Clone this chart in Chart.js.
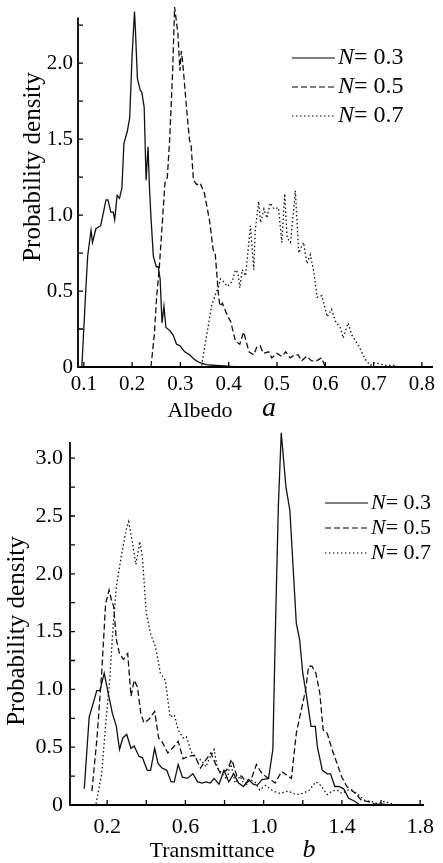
<!DOCTYPE html>
<html>
<head>
<meta charset="utf-8">
<script src="https://cdn.jsdelivr.net/npm/chart.js@4.4.1/dist/chart.umd.min.js"></script>
<style>
  html, body { margin: 0; padding: 0; background: #fff; }
  #wrap { position: relative; width: 443px; height: 863px; }
  canvas { position: absolute; left: 0; }
</style>
</head>
<body>
<div id="wrap">
  <canvas id="albedoChart" width="443" height="420" style="top:0"></canvas>
  <canvas id="transChart" width="443" height="443" style="top:420px"></canvas>
</div>
<script>
// series names (cloud fraction N)
const seriesN = ['0.3', '0.5', '0.7'];

// panel a: albedo
const albedoX03 = [0.096, 0.104, 0.108, 0.115, 0.118, 0.125, 0.135, 0.146, 0.150, 0.156, 0.161, 0.164, 0.169, 0.174, 0.179, 0.183, 0.190, 0.195, 0.200, 0.205, 0.207, 0.211, 0.217, 0.220, 0.225, 0.229, 0.233, 0.236, 0.239, 0.244, 0.250, 0.254, 0.258, 0.262, 0.266, 0.270, 0.278, 0.285, 0.292, 0.299, 0.309, 0.319, 0.329, 0.339, 0.353, 0.373, 0.400, 0.420];
const albedoY03 = [0, 0.50, 0.73, 0.90, 0.82, 0.91, 0.93, 1.10, 1.10, 1.02, 1.02, 0.97, 1.13, 1.11, 1.18, 1.47, 1.55, 1.64, 2.05, 2.34, 2.21, 1.90, 1.82, 1.81, 1.71, 1.23, 1.45, 1.18, 0.99, 0.73, 0.66, 0.66, 0.58, 0.29, 0.40, 0.26, 0.24, 0.21, 0.15, 0.14, 0.10, 0.08, 0.05, 0.03, 0.015, 0.01, 0.005, 0];
const albedoX05 = [0.239, 0.246, 0.251, 0.256, 0.263, 0.268, 0.273, 0.278, 0.284, 0.288, 0.295, 0.299, 0.302, 0.305, 0.312, 0.319, 0.322, 0.327, 0.334, 0.341, 0.350, 0.360, 0.368, 0.372, 0.379, 0.382, 0.387, 0.397, 0.404, 0.414, 0.423, 0.431, 0.442, 0.452, 0.458, 0.465, 0.472, 0.483, 0.489, 0.500, 0.510, 0.518, 0.527, 0.537, 0.544, 0.551, 0.561, 0.572, 0.582, 0.592, 0.599, 0.610];
const albedoY05 = [0, 0.21, 0.47, 0.64, 0.97, 1.21, 1.25, 1.51, 1.95, 2.37, 2.19, 1.95, 2.08, 2.00, 1.73, 1.49, 1.47, 1.23, 1.20, 1.21, 1.14, 0.97, 0.77, 0.75, 0.47, 0.40, 0.42, 0.34, 0.30, 0.17, 0.15, 0.23, 0.10, 0.08, 0.13, 0.14, 0.09, 0.10, 0.06, 0.09, 0.07, 0.10, 0.06, 0.08, 0.08, 0.04, 0.07, 0.04, 0.04, 0.06, 0.01, 0];
const albedoX07 = [0.344, 0.355, 0.365, 0.373, 0.379, 0.383, 0.390, 0.397, 0.407, 0.414, 0.419, 0.423, 0.428, 0.435, 0.445, 0.452, 0.455, 0.462, 0.466, 0.473, 0.479, 0.486, 0.494, 0.503, 0.510, 0.516, 0.521, 0.528, 0.538, 0.545, 0.555, 0.562, 0.569, 0.576, 0.583, 0.593, 0.604, 0.613, 0.621, 0.631, 0.637, 0.647, 0.655, 0.669, 0.683, 0.693, 0.703, 0.724, 0.745];
const albedoY07 = [0.01, 0.22, 0.41, 0.48, 0.53, 0.58, 0.56, 0.53, 0.56, 0.64, 0.62, 0.52, 0.64, 0.60, 0.93, 0.64, 0.90, 1.09, 0.95, 1.04, 0.98, 1.08, 1.04, 1.05, 0.82, 1.14, 0.85, 0.82, 1.16, 0.75, 0.82, 0.68, 0.74, 0.63, 0.46, 0.47, 0.33, 0.38, 0.30, 0.26, 0.19, 0.29, 0.21, 0.14, 0.05, 0.01, 0.03, 0.01, 0.01];

// panel b: transmittance
const transX03 = [0.083, 0.108, 0.147, 0.163, 0.185, 0.205, 0.227, 0.247, 0.263, 0.280, 0.300, 0.322, 0.338, 0.363, 0.380, 0.405, 0.422, 0.443, 0.460, 0.480, 0.505, 0.527, 0.543, 0.563, 0.585, 0.610, 0.638, 0.663, 0.685, 0.705, 0.727, 0.747, 0.772, 0.797, 0.822, 0.847, 0.872, 0.897, 0.922, 0.947, 0.967, 0.992, 1.025, 1.047, 1.059, 1.075, 1.090, 1.114, 1.134, 1.167, 1.184, 1.200, 1.217, 1.242, 1.264, 1.275, 1.300, 1.325, 1.342, 1.364, 1.384, 1.409, 1.434, 1.467, 1.492];
const transY03 = [0.14, 0.76, 0.99, 0.99, 1.14, 0.97, 0.79, 0.68, 0.48, 0.58, 0.61, 0.49, 0.51, 0.42, 0.41, 0.30, 0.30, 0.49, 0.36, 0.32, 0.30, 0.20, 0.20, 0.35, 0.24, 0.23, 0.27, 0.20, 0.19, 0.20, 0.19, 0.23, 0.18, 0.30, 0.20, 0.27, 0.19, 0.16, 0.22, 0.18, 0.17, 0.22, 0.23, 0.48, 1.43, 2.58, 3.22, 2.75, 2.55, 1.57, 1.43, 1.14, 0.97, 0.68, 0.68, 0.50, 0.30, 0.27, 0.27, 0.16, 0.16, 0.14, 0.06, 0.03, 0];
const transX05 = [0.122, 0.147, 0.172, 0.192, 0.210, 0.222, 0.233, 0.247, 0.263, 0.283, 0.305, 0.322, 0.338, 0.355, 0.372, 0.388, 0.413, 0.443, 0.463, 0.480, 0.510, 0.538, 0.563, 0.588, 0.613, 0.647, 0.677, 0.705, 0.730, 0.755, 0.780, 0.810, 0.838, 0.863, 0.888, 0.913, 0.938, 0.963, 0.992, 1.017, 1.059, 1.092, 1.117, 1.142, 1.167, 1.192, 1.214, 1.230, 1.247, 1.267, 1.287, 1.304, 1.325, 1.350, 1.375, 1.400, 1.425, 1.450, 1.475, 1.500, 1.534, 1.567, 1.617, 1.650];
const transY05 = [0.12, 0.56, 1.14, 1.74, 1.86, 1.77, 1.72, 1.43, 1.31, 1.26, 1.31, 0.94, 1.08, 1.02, 0.79, 0.71, 0.74, 0.81, 0.58, 0.55, 0.45, 0.50, 0.55, 0.40, 0.42, 0.43, 0.32, 0.39, 0.45, 0.35, 0.27, 0.30, 0.39, 0.25, 0.25, 0.19, 0.23, 0.35, 0.27, 0.24, 0.19, 0.29, 0.26, 0.23, 0.62, 0.82, 0.99, 1.20, 1.20, 1.14, 0.97, 0.65, 0.62, 0.48, 0.36, 0.24, 0.16, 0.13, 0.09, 0.04, 0.03, 0.01, 0.005, 0];
const transX07 = [0.143, 0.172, 0.193, 0.213, 0.230, 0.247, 0.272, 0.297, 0.310, 0.327, 0.347, 0.367, 0.380, 0.400, 0.422, 0.447, 0.472, 0.497, 0.522, 0.543, 0.563, 0.588, 0.605, 0.630, 0.655, 0.680, 0.705, 0.722, 0.747, 0.763, 0.788, 0.813, 0.830, 0.855, 0.880, 0.905, 0.930, 0.955, 0.980, 1.009, 1.050, 1.084, 1.125, 1.167, 1.200, 1.234, 1.267, 1.292, 1.325, 1.350, 1.375, 1.400, 1.434, 1.459, 1.484, 1.517, 1.550, 1.584, 1.617, 1.667, 1.700];
const transY07 = [0.01, 0.27, 0.71, 1.08, 1.54, 1.89, 2.15, 2.38, 2.45, 2.29, 2.08, 2.28, 2.15, 1.66, 1.48, 1.37, 1.14, 1.08, 0.76, 0.78, 0.65, 0.58, 0.59, 0.46, 0.40, 0.39, 0.33, 0.40, 0.48, 0.32, 0.27, 0.22, 0.37, 0.19, 0.25, 0.16, 0.22, 0.20, 0.13, 0.17, 0.12, 0.10, 0.12, 0.09, 0.10, 0.13, 0.20, 0.17, 0.09, 0.12, 0.13, 0.10, 0.13, 0.12, 0.09, 0.04, 0.03, 0.01, 0.03, 0.005, 0];

// ticks and tick labels
const xTicksA = [0.1, 0.2, 0.3, 0.4, 0.5, 0.6, 0.7, 0.8];
const xLabelsA = ['0.1', '0.2', '0.3', '0.4', '0.5', '0.6', '0.7', '0.8'];
const yTicksA = [0, 0.25, 0.5, 0.75, 1.0, 1.25, 1.5, 1.75, 2.0, 2.25];
const yLabelsA = ['0', '', '0.5', '', '1.0', '', '1.5', '', '2.0', ''];
const xTicksB = [0.2, 0.4, 0.6, 0.8, 1.0, 1.2, 1.4, 1.6, 1.8];
const xLabelsB = ['0.2', '', '0.6', '', '1.0', '', '1.4', '', '1.8'];
const yTicksB = [0, 0.25, 0.5, 0.75, 1.0, 1.25, 1.5, 1.75, 2.0, 2.25, 2.5, 2.75, 3.0];
const yLabelsB = ['0', '', '0.5', '', '1.0', '', '1.5', '', '2.0', '', '2.5', '', '3.0'];

const SERIF = '"Liberation Serif", "Times New Roman", serif';
const DASHES = [[], [6, 3], [1.5, 2.5]];

function toPoints(xs, ys) {
    return xs.map((x, i) => ({ x: x, y: ys[i] }));
}

function makeDatasets(pairs) {
    return pairs.map((p, i) => ({
        label: 'N = ' + seriesN[i],
        data: toPoints(p[0], p[1]),
        borderColor: '#111',
        borderWidth: 1.3,
        borderDash: DASHES[i],
        pointRadius: 0,
        tension: 0,
        fill: false,
        clip: false
    }));
}

function makeScale(min, max, ticks, labels, pad, size, fit) {
    return {
        type: 'linear',
        min: min,
        max: max,
        grid: { display: false, drawTicks: false },
        border: { display: false },
        afterBuildTicks: s => { s.ticks = ticks.map(v => ({ value: v })); },
        afterFit: fit,
        ticks: {
            autoSkip: false,
            maxRotation: 0,
            padding: pad,
            color: '#000',
            font: { family: SERIF, size: size },
            callback: (v, i) => labels[i]
        }
    };
}

// axis lines, inward ticks, axis titles, panel letter and legend
const decorPlugin = {
    id: 'decor',
    afterDatasetsDraw(chart, args, o) {
        const ctx = chart.ctx;
        const a = chart.chartArea;
        const xs = chart.scales.x, ys = chart.scales.y;
        ctx.save();
        ctx.strokeStyle = '#000';
        ctx.setLineDash([]);
        ctx.lineWidth = 1.8;
        ctx.beginPath();
        ctx.moveTo(a.left, a.top);
        ctx.lineTo(a.left, a.bottom);
        ctx.lineTo(a.right, a.bottom);
        ctx.stroke();

        ctx.lineWidth = 1.3;
        ctx.beginPath();
        xs.ticks.forEach(t => {
            const p = xs.getPixelForValue(t.value);
            ctx.moveTo(p, a.bottom);
            ctx.lineTo(p, a.bottom - 5);
        });
        ys.ticks.forEach(t => {
            const p = ys.getPixelForValue(t.value);
            ctx.moveTo(a.left, p);
            ctx.lineTo(a.left + 5, p);
        });
        ctx.stroke();

        ctx.fillStyle = '#000';
        ctx.textAlign = 'center';
        ctx.textBaseline = 'middle';
        ctx.font = o.titleSize + 'px ' + SERIF;
        ctx.fillText(o.xTitle, o.xTitleX, o.xTitleY);

        ctx.save();
        ctx.translate(o.yTitleX, o.yTitleY);
        ctx.rotate(-Math.PI / 2);
        ctx.font = o.yTitleSize + 'px ' + SERIF;
        ctx.fillText('Probability density', 0, 0);
        ctx.restore();

        ctx.font = 'italic ' + o.letterSize + 'px ' + SERIF;
        ctx.fillText(o.letter, o.letterX, o.letterY);

        // legend
        chart.data.datasets.forEach((ds, i) => {
            const yy = o.legY + i * o.legGap;
            ctx.beginPath();
            ctx.setLineDash(ds.borderDash);
            ctx.lineWidth = 1.2;
            ctx.moveTo(o.legX0, yy);
            ctx.lineTo(o.legX1, yy);
            ctx.stroke();
            ctx.setLineDash([]);
            ctx.textAlign = 'left';
            ctx.font = 'italic ' + o.legSize + 'px ' + SERIF;
            ctx.fillText('N', o.legX1 + 3, yy);
            const w = ctx.measureText('N').width;
            ctx.font = o.legSize + 'px ' + SERIF;
            ctx.fillText('= ' + seriesN[i], o.legX1 + 3 + w, yy);
        });
        ctx.restore();
    }
};

function baseOptions(padding, scales, decor) {
    return {
        responsive: false,
        animation: false,
        devicePixelRatio: 1,
        layout: { padding: padding },
        plugins: {
            legend: { display: false },
            tooltip: { enabled: false },
            decor: decor
        },
        scales: scales
    };
}

new Chart(document.getElementById('albedoChart'), {
    type: 'line',
    data: {
        datasets: makeDatasets([[albedoX03, albedoY03], [albedoX05, albedoY05], [albedoX07, albedoY07]])
    },
    options: baseOptions(
        { top: 12, right: 10, left: 0, bottom: 0 },
        {
            x: makeScale(0.088, 0.823, xTicksA, xLabelsA, 5, 21, s => { s.height = 53; }),
            y: makeScale(0, 2.30, yTicksA, yLabelsA, 5, 21, s => { s.width = 78; })
        },
        {
            xTitle: 'Albedo', xTitleX: 200, xTitleY: 411, titleSize: 22,
            yTitleX: 33, yTitleY: 167, yTitleSize: 25,
            letter: 'a', letterX: 269, letterY: 409, letterSize: 28,
            legX0: 292, legX1: 335, legY: 58, legGap: 29, legSize: 24
        }
    ),
    plugins: [decorPlugin]
});

new Chart(document.getElementById('transChart'), {
    type: 'line',
    data: {
        datasets: makeDatasets([[transX03, transY03], [transX05, transY05], [transX07, transY07]])
    },
    options: baseOptions(
        { top: 22, right: 11, left: 0, bottom: 0 },
        {
            x: makeScale(0.01, 1.82, xTicksB, xLabelsB, 9, 22, s => { s.height = 58; }),
            y: makeScale(0, 3.14, yTicksB, yLabelsB, 7, 22, s => { s.width = 70; })
        },
        {
            xTitle: 'Transmittance', xTitleX: 212, xTitleY: 431, titleSize: 22,
            yTitleX: 17, yTitleY: 211, yTitleSize: 25,
            letter: 'b', letterX: 309, letterY: 430, letterSize: 26,
            legX0: 325, legX1: 368, legY: 83, legGap: 25, legSize: 22
        }
    ),
    plugins: [decorPlugin]
});
</script>
</body>
</html>
